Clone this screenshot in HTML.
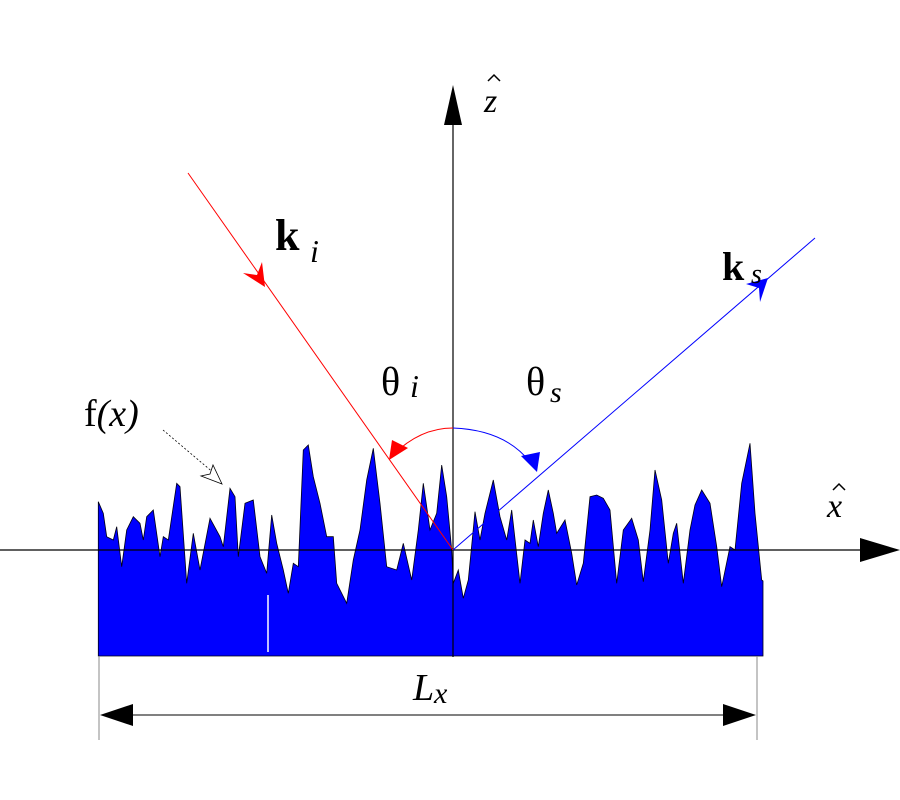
<!DOCTYPE html>
<html><head><meta charset="utf-8"><style>html,body{margin:0;padding:0;background:#fff}svg{display:block}</style></head><body>
<svg width="900" height="800" viewBox="0 0 900 800" xmlns="http://www.w3.org/2000/svg" font-family="Liberation Serif, serif">
<polygon fill="#0000ff" stroke="#001" stroke-width="0.8" points="98.3,656 98.3,501.7 103.3,513.3 106.7,536.7 113.3,540 116.7,526.7 121.7,566.7 126.7,530 133.3,516.7 140,523.3 143.3,540 146.7,516.7 153.3,510 160,556.7 163.3,536.7 168.3,540 176.7,483.3 180,486.7 186.7,583.3 193.3,533.3 200,570 210,518.3 220,536.7 223.3,546.7 230,488.3 235,496.7 238.3,556.7 245,503.3 253.3,500 260,556.7 266.7,573.3 271.7,515 276.7,543.3 283.3,570 288.3,593.3 293.3,563.3 298.3,566.7 303.3,450 308.3,445 313.3,476.7 320,503.3 326.7,536.7 333.3,536.7 336.7,583.3 346.7,603.3 353.3,560 360,530 366.7,480 373.3,448.3 380,503.3 386.7,566.7 396.7,570 403.3,543.3 411.7,580 418.3,530 423.3,483.3 426.7,506.7 430,530 436.7,513.3 441.7,465 446.7,496.7 451.7,550 453.3,583.3 458.3,570 463.3,598.3 468.3,580 475,511.7 480,540 485,513.3 493.3,480 500,516.7 506.7,540 511.7,510 520,583.3 525,540 530,543.3 533.3,520 538.3,546.7 543.3,513.3 548.3,490 553.3,513.3 556.7,533.3 565,520 571.7,553.3 576.7,585 583.3,563.3 590,496.7 596.7,495 603.3,498.3 610,510 616.7,583.3 623.3,530 631.7,518.3 638.3,540 643.3,581.7 650,530 655,470 661.7,500 668.3,563.3 673.3,533.3 676.7,523.3 683.3,583.3 690,530 695,505 701.7,490 710,503.3 716.7,546.7 721.7,586.7 730,546.7 735,550 741.7,483.3 750,443.3 755,513.3 761.7,580 763,581 763,656"/>
<line x1="268" y1="595" x2="268" y2="652" stroke="#fff" stroke-width="1.5"/>
<!-- axes -->
<line x1="0" y1="550" x2="862" y2="550" stroke="#000" stroke-width="1.2"/>
<polygon points="860,538 900,550 860,562" fill="#000"/>
<line x1="453" y1="120" x2="453" y2="657" stroke="#000" stroke-width="1.2"/>
<polygon points="444,125 453,85 462,125" fill="#000"/>
<!-- rays -->
<line x1="188" y1="173" x2="453" y2="550" stroke="#f00" stroke-width="1"/>
<polygon points="265,287 243,273 257,275 262,262" fill="#f00"/>
<line x1="453" y1="550" x2="815" y2="238" stroke="#00f" stroke-width="1"/>
<polygon points="768,278 746,284 759,288 760,302" fill="#00f"/>
<!-- arc -->
<path d="M393,455 Q420,428 453,428" fill="none" stroke="#f00" stroke-width="1"/>
<path d="M453,428 Q505,430 530,462" fill="none" stroke="#00f" stroke-width="1"/>
<polygon points="389,460 392,440 408,448" fill="#f00"/>
<polygon points="537,472 521,456 540,452" fill="#00f"/>
<!-- leader -->
<line x1="163" y1="430" x2="215" y2="474" stroke="#000" stroke-width="0.8" stroke-dasharray="2,2"/>
<polygon points="222,484 201,476 210,474 213,465" fill="#fff" stroke="#000" stroke-width="0.8"/>
<!-- dimension -->
<line x1="99" y1="656" x2="99" y2="740" stroke="#888" stroke-width="1"/>
<line x1="757" y1="656" x2="757" y2="740" stroke="#888" stroke-width="1"/>
<line x1="130" y1="715" x2="727" y2="715" stroke="#000" stroke-width="1"/>
<polygon points="100,715 133,704 133,726" fill="#000"/>
<polygon points="756,715 723,704 723,726" fill="#000"/>
<!-- labels -->
<text x="484" y="112" font-size="34" font-style="italic">z</text>
<polyline points="488,81 494,75 500,81" fill="none" stroke="#000" stroke-width="1.5"/>
<text x="827" y="517" font-size="34" font-style="italic">x</text>
<polyline points="833,490 839,484 845,490" fill="none" stroke="#000" stroke-width="1.5"/>
<text x="275" y="250" font-size="44" font-weight="bold">k</text><text x="310" y="262" font-size="32" font-style="italic">i</text>
<text x="722" y="280" font-size="40" font-weight="bold">k</text><text x="751" y="283" font-size="28" font-style="italic">s</text>
<text x="381" y="395" font-size="40">θ</text><text x="410" y="397" font-size="32" font-style="italic">i</text>
<text x="526" y="395" font-size="40">θ</text><text x="550" y="402" font-size="30" font-style="italic">s</text>
<text x="84" y="426" font-size="38">f<tspan font-style="italic">(x)</tspan></text>
<text x="413" y="700" font-size="38" font-style="italic">L</text><text x="434" y="703" font-size="30" font-style="italic">x</text>
</svg>
</body></html>
